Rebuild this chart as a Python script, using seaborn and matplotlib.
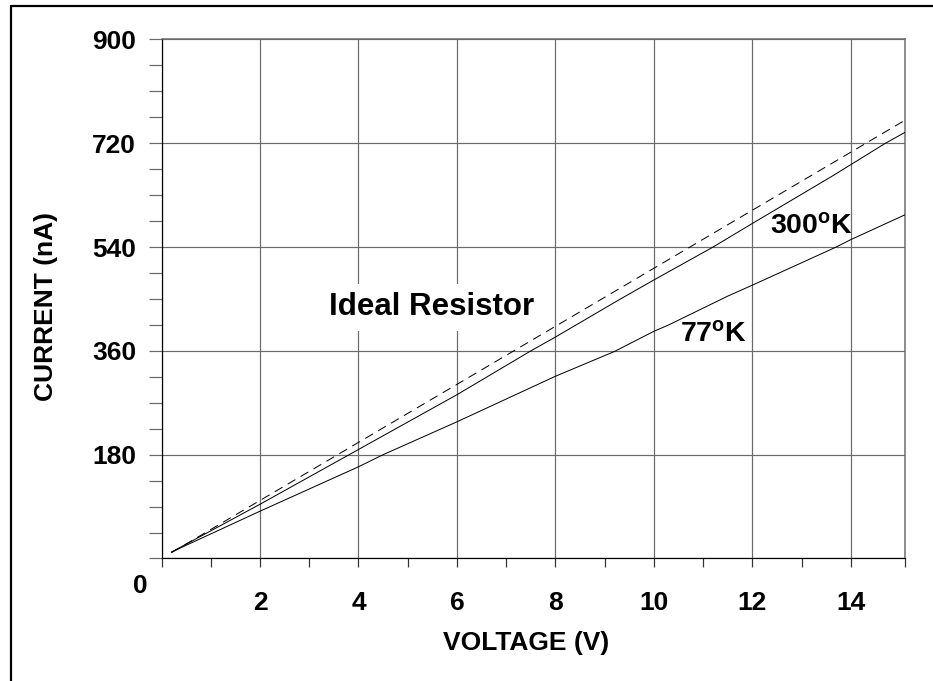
import matplotlib
matplotlib.use('Agg')
import matplotlib.pyplot as plt
import seaborn as sns
import pandas as pd
from matplotlib.lines import Line2D
from matplotlib.transforms import ScaledTranslation

# ---- data ----
ideal_v = [0.2, 15.1]
ideal_i = [10, 760]
k300_v = [0.2, 2, 4, 6, 7.5, 8, 9.3, 10, 11.2, 12, 13.6, 14, 14.7, 15.1]
k300_i = [11, 94, 189, 284, 360, 384, 449, 483, 540, 581, 662, 683, 720, 739]
k77_v = [0.2, 2, 4, 4.5, 6, 8, 9.2, 10, 10.3, 11.5, 12, 13.7, 14, 15.1]
k77_i = [11, 82, 159, 180, 237, 316, 359, 394, 405, 455, 474, 540, 553, 596]

x_ticks = [0, 2, 4, 6, 8, 10, 12, 14]
x_labels = ['', '2', '4', '6', '8', '10', '12', '14']
x_minor = [1, 3, 5, 7, 9, 11, 13, 15.1]
y_ticks = [0, 180, 360, 540, 720, 900]
y_labels = ['0', '180', '360', '540', '720', '900']
y_minor = [45, 90, 135, 225, 270, 315, 405, 450, 495, 585, 630, 675, 765, 810, 855]

sns.set_style('ticks')
plt.rcParams['font.family'] = ['Liberation Sans', 'DejaVu Sans']
plt.rcParams['font.weight'] = 'bold'
plt.rcParams['text.color'] = 'black'
plt.rcParams['axes.labelcolor'] = 'black'
plt.rcParams['xtick.labelcolor'] = 'black'
plt.rcParams['ytick.labelcolor'] = 'black'
plt.rcParams['mathtext.fontset'] = 'custom'
plt.rcParams['mathtext.rm'] = 'Liberation Sans:bold'
plt.rcParams['mathtext.bf'] = 'Liberation Sans:bold'
plt.rcParams['mathtext.it'] = 'Liberation Sans:bold'

fig = plt.figure(figsize=(9.33, 6.81), dpi=100)
ax = fig.add_axes([0.1731, 0.1799, 0.7969, 0.7621])

px = 0.72  # one pixel in points
grid_col = '#6a6a6a'

df_ideal = pd.DataFrame({'V': ideal_v, 'I': ideal_i})
df300 = pd.DataFrame({'V': k300_v, 'I': k300_i})
df77 = pd.DataFrame({'V': k77_v, 'I': k77_i})

sns.lineplot(data=df_ideal, x='V', y='I', ax=ax, color='black', lw=1.0 * px,
             linestyle=(0, (9, 6)), zorder=4)
sns.lineplot(data=df300, x='V', y='I', ax=ax, color='black', lw=1.0 * px, zorder=4)
sns.lineplot(data=df77, x='V', y='I', ax=ax, color='black', lw=1.0 * px, zorder=4)

ax.set_xlim(0, 15.1)
ax.set_ylim(0, 900)

ax.set_xticks(x_ticks)
ax.set_xticklabels(x_labels)
ax.set_xticks(x_minor, minor=True)
ax.set_yticks(y_ticks)
ax.set_yticklabels(y_labels)
ax.set_yticks(y_minor, minor=True)

ax.grid(True, which='major', color=grid_col, lw=1.2 * px, zorder=0)
ax.set_axisbelow(True)

ax.tick_params(axis='x', which='both', direction='out', length=9 * px,
               width=1.2 * px, color='#333333', pad=24 * px, labelsize=19,
               labelcolor='black')
ax.tick_params(axis='y', which='both', direction='out', length=13.5 * px,
               width=1.2 * px, color=grid_col, pad=12 * px, labelsize=19,
               labelcolor='black')
for lab in ax.get_xticklabels() + ax.get_yticklabels():
    lab.set_fontweight('bold')

# shift the origin "0" label down/right as in the reference
zero = ax.get_yticklabels()[0]
zero.set_transform(zero.get_transform() + ScaledTranslation(12 / 100, -25 / 100, fig.dpi_scale_trans))

for s in ['left', 'bottom']:
    ax.spines[s].set_color('black')
    ax.spines[s].set_linewidth(1.2 * px)
for s in ['top', 'right']:
    ax.spines[s].set_color(grid_col)
    ax.spines[s].set_linewidth(1.5 * px)

ax.set_xlabel('VOLTAGE (V)', fontsize=19, fontweight='bold', color='black')
ax.set_ylabel('CURRENT (nA)', fontsize=19, fontweight='bold', color='black')
ax.xaxis.set_label_coords(0.491, -0.139)
ax.yaxis.set_label_coords(-0.139, 0.485)

ax.text(5.48, 436, 'Ideal Resistor', fontsize=22.5, fontweight='bold', color='black',
        ha='center', va='center', zorder=3,
        bbox=dict(facecolor='white', edgecolor='none', pad=6))
ax.text(13.2, 575, r'$\mathbf{300^{o}K}$', fontsize=20.5, color='black',
        ha='center', va='center', zorder=5)
ax.text(11.22, 389, r'$\mathbf{77^{o}K}$', fontsize=20.5, color='black',
        ha='center', va='center', zorder=5)

# outer frame (left and top edges)
fig.add_artist(Line2D([11 / 933, 11 / 933], [0, 1 - 6 / 681], transform=fig.transFigure,
                      color='black', lw=2.2 * px))
fig.add_artist(Line2D([11 / 933, 1], [1 - 6 / 681, 1 - 6 / 681], transform=fig.transFigure,
                      color='black', lw=2.2 * px))

fig.savefig('out.png', dpi=100)
